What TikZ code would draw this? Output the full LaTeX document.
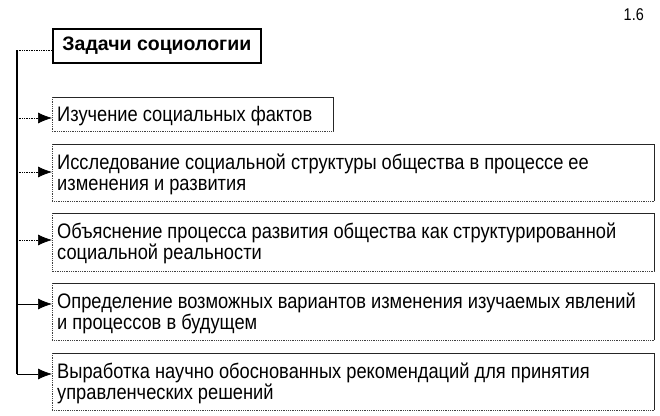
\documentclass[tikz,border=0pt]{standalone}
\usepackage{fontspec}
\setmainfont{Liberation Sans}
\newfontfamily\narrowfont[FakeStretch=0.87]{Liberation Sans}
\newfontfamily\numfont[FakeStretch=0.85]{Liberation Sans}
\usetikzlibrary{arrows.meta}
\tikzset{
  boxtxt/.style={inner xsep=5pt, inner ysep=0pt, align=left,
    font=\narrowfont\fontsize{21}{20.5}\selectfont},
  framenode/.style={anchor=north west, inner sep=0pt, minimum width=602pt, minimum height=57pt},
  edgesolid/.style={line width=0.9pt, black!85},
  edgedot/.style={line width=0.8pt, black!75, densely dotted},
  conn/.style={line width=0.7pt, -{Latex[length=14pt,width=11pt]}},
  conndot/.style={conn, densely dotted},
  spine/.style={line width=1.2pt},
  titlebox/.style={draw, line width=1.8pt, minimum width=208pt, minimum height=34pt,
    font=\bfseries\fontsize{19.5}{19.5}\selectfont, inner sep=0pt},
}
\newcommand{\myframe}[1]{%
  \draw[edgesolid] (#1.north west) -- (#1.north east) -- (#1.south east);
  \draw[edgedot] (#1.north west) -- (#1.south west) -- (#1.south east);}
\begin{document}
\begin{tikzpicture}[x=1pt,y=-1pt]
\useasboundingbox (0,0) rectangle (660,415);
\node[anchor=base east, inner sep=0pt, font=\numfont\fontsize{17}{17}\selectfont] (num) at (644,20) {1.6};
\node[titlebox, anchor=north west] (t) at (52,28) {Задачи социологии};
% boxes as frames
\node[framenode, minimum width=281pt, minimum height=34pt] (b1) at (52,97) {};
\node[framenode] (b2) at (52,144) {};
\node[framenode, minimum height=58pt] (b3) at (52,213) {};
\node[framenode] (b4) at (52,283) {};
\node[framenode] (b5) at (52,353) {};
\myframe{b1}\myframe{b2}\myframe{b3}\myframe{b4}\myframe{b5}
% texts (base = last line baseline)
\node[boxtxt, anchor=base west] (x1) at (52,121) {Изучение социальных фактов};
\node[boxtxt, anchor=base west] (x2) at (52,190) {Исследование социальной структуры общества в процессе ее\\изменения и развития};
\node[boxtxt, anchor=base west] (x3) at (52,259) {Объяснение процесса развития общества как структурированной\\социальной реальности};
\node[boxtxt, anchor=base west] (x4) at (52,329) {Определение возможных вариантов изменения изучаемых явлений\\и процессов в будущем};
\node[boxtxt, anchor=base west] (x5) at (52,399) {Выработка научно обоснованных рекомендаций для принятия\\управленческих решений};
% connectors
\coordinate (s0) at (17,50);
\coordinate (a1) at (17,118);
\coordinate (a2) at (17,172);
\coordinate (a3) at (17,240);
\coordinate (a4) at (17,304);
\coordinate (a5) at (17,374);
\draw[spine] (s0) -- (a5);
\draw[line width=0.7pt, densely dotted] (s0) -- (s0 -| t.west);
\draw[conndot] (a1) -- (a1 -| b1.west);
\draw[conndot] (a2) -- (a2 -| b2.west);
\draw[conndot] (a3) -- (a3 -| b3.west);
\draw[conn] (a4) -- (a4 -| b4.west);
\draw[conn] (a5) -- (a5 -| b5.west);
\end{tikzpicture}
\end{document}
